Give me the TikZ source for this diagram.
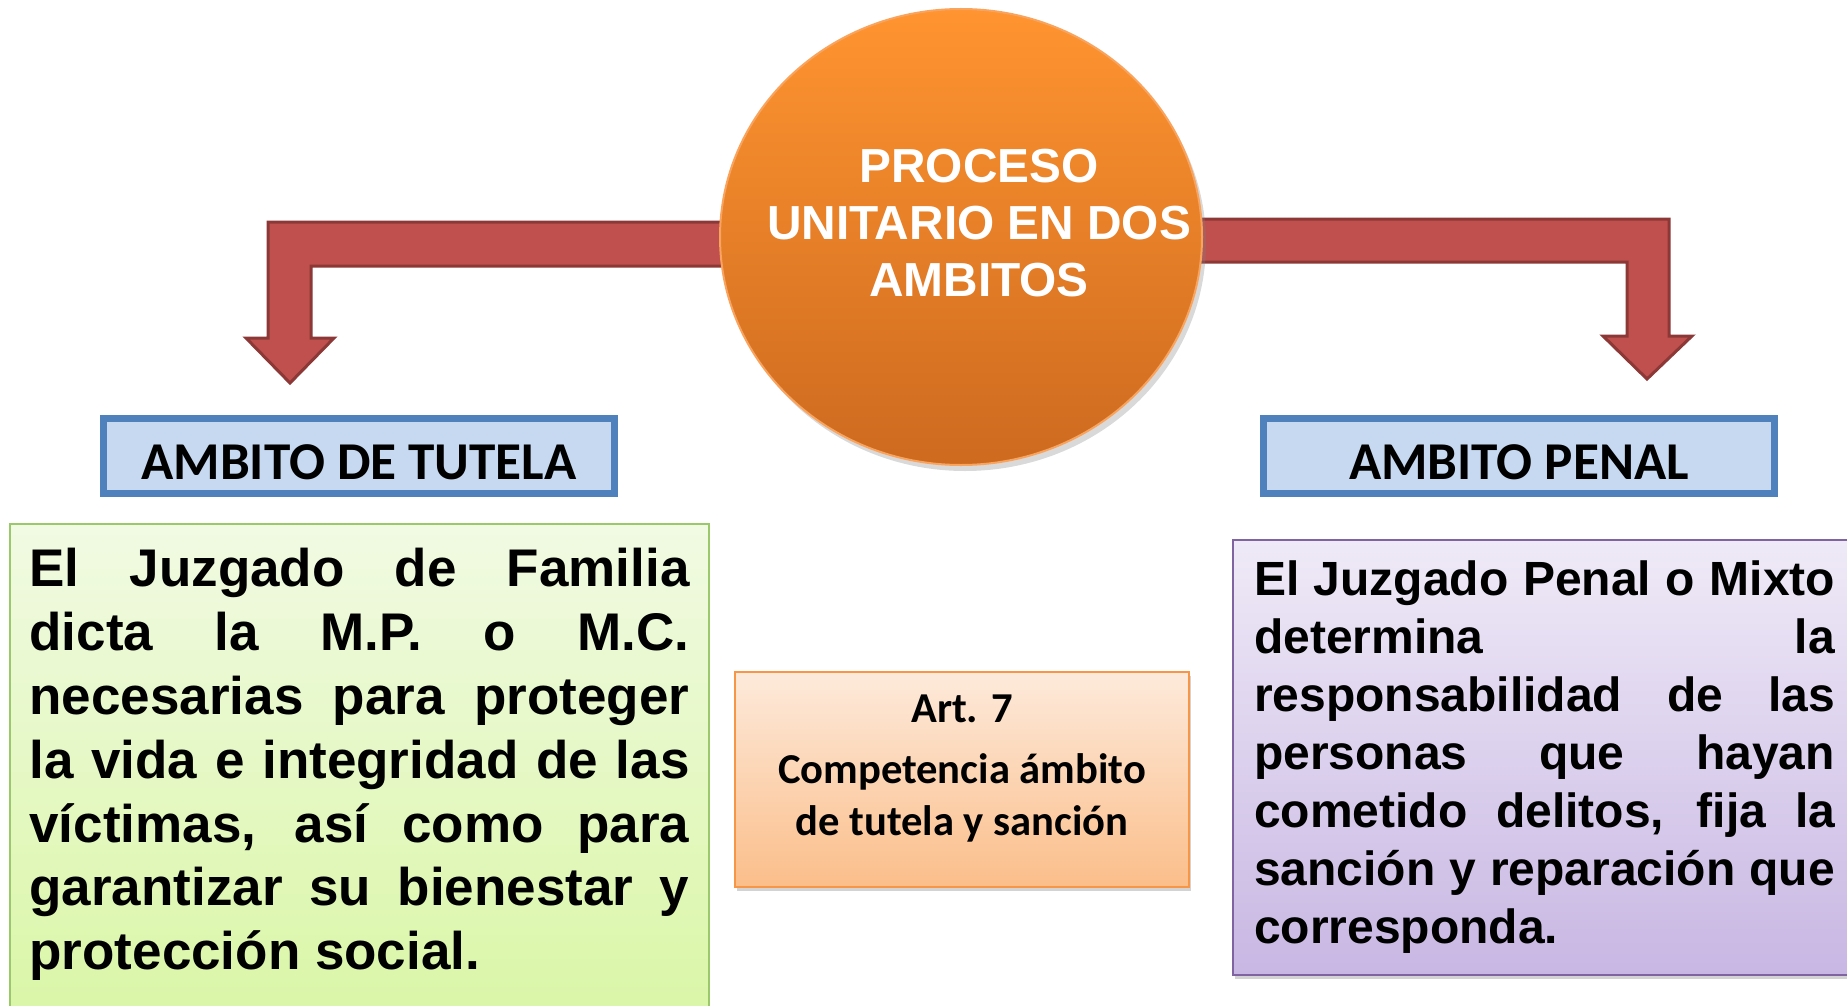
\documentclass[tikz,border=0pt]{standalone}
\usepackage{fontspec}
\setmainfont{Liberation Sans}
\newfontfamily\calibfont{Carlito}
\usepackage{xcolor}
\usetikzlibrary{shapes.geometric, positioning, shadows}

\definecolor{arrowred}{HTML}{C0504D}
\definecolor{arrowedge}{HTML}{8C3836}
\definecolor{proctop}{HTML}{FF9430}
\definecolor{procbottom}{HTML}{CD6A1F}
\definecolor{procedge}{HTML}{F9A45E}
\definecolor{ambitofill}{HTML}{C6D9F1}
\definecolor{ambitoedge}{HTML}{4F81BD}
\definecolor{greentop}{HTML}{F1FAE3}
\definecolor{greenbottom}{HTML}{D8F6A2}
\definecolor{greenedge}{HTML}{9BC86A}
\definecolor{lilactop}{HTML}{EFEAF7}
\definecolor{lilacbottom}{HTML}{C8B7E3}
\definecolor{lilacedge}{HTML}{8064A2}
\definecolor{peachtop}{HTML}{FDEADB}
\definecolor{peachbottom}{HTML}{FBBE8A}
\definecolor{peachedge}{HTML}{F79646}

\newcommand{\jline}[2]{\makebox[#1][s]{#2}}

\begin{document}
\begin{tikzpicture}[
x=0.5pt, y=-0.5pt,
blockarrow/.style={fill=arrowred, draw=arrowedge, line width=1.5pt, line join=miter},
process/.style={ellipse, top color=proctop, bottom color=procbottom, draw=procedge, line width=1pt, minimum width=241pt, minimum height=228pt, inner sep=0pt, drop shadow={opacity=0.3, shadow xshift=2pt, shadow yshift=-3pt}},
proctext/.style={align=center, text=white, font=\bfseries\fontsize{23.9}{28.5}\selectfont, xshift=9pt, yshift=7pt},
ambito/.style={rectangle, draw=ambitoedge, fill=ambitofill, line width=3.5pt, minimum width=255.5pt, minimum height=37.5pt, text height=23pt, text depth=0pt, font=\calibfont\bfseries\fontsize{26.6}{30}\selectfont},
tutelabox/.style={rectangle, draw=greenedge, top color=greentop, bottom color=greenbottom, line width=1pt, inner xsep=9.75pt, inner ysep=12pt, font=\bfseries\fontsize{26.5}{31.95}\selectfont},
penalbox/.style={rectangle, draw=lilacedge, top color=lilactop, bottom color=lilacbottom, line width=1pt, inner xsep=10.5pt, inner ysep=10.3pt, font=\bfseries\fontsize{24}{29}\selectfont, drop shadow={opacity=0.35, shadow xshift=1pt, shadow yshift=-2pt}},
artbox/.style={rectangle, draw=peachedge, top color=peachtop, bottom color=peachbottom, line width=1pt, minimum width=227pt, minimum height=107.5pt, drop shadow={opacity=0.35, shadow xshift=1pt, shadow yshift=-2pt}},
arttext/.style={align=center, font=\calibfont\bfseries\fontsize{21.3}{26}\selectfont, yshift=5.6pt}
]

\useasboundingbox (0,0) rectangle (1847,1006);

% block arrows, drawn under the ellipse
\draw[blockarrow] (760,222) -- (268,222) -- (268,338) -- (246,338) -- (290,383) -- (334,338) -- (311,338) -- (311,266) -- (760,266) -- cycle;
\draw[blockarrow] (1160,219) -- (1669,219) -- (1669,336) -- (1692,336) -- (1647,379) -- (1603,336) -- (1627,336) -- (1627,262) -- (1160,262) -- cycle;

\node[process, label={[proctext]center:PROCESO\\UNITARIO EN DOS\\AMBITOS}] (proc) at (961,237) {};

\node[ambito] (tutela) at (359,456) {AMBITO DE TUTELA};
\node[ambito, right=321pt of tutela] (penal) {AMBITO PENAL};

\node[tutelabox, anchor=north west] (tuteladesc) at (9,523) {\parbox[t][240pt][t]{330pt}{%
\jline{330pt}{El Juzgado de Familia}\\
\jline{330pt}{dicta la M.P. o M.C.}\\
\jline{330pt}{necesarias para proteger}\\
\jline{330pt}{la vida e integridad de las}\\
\jline{330pt}{víctimas, así como para}\\
\jline{330pt}{garantizar su bienestar y}\\
protección social.}};

\node[penalbox, anchor=north west] (penaldesc) at (1232,539) {\parbox[t][197pt][t]{298pt}{%
\jline{290.5pt}{El Juzgado Penal o Mixto}\\
\jline{290.5pt}{determina la}\\
\jline{290.5pt}{responsabilidad de las}\\
\jline{290.5pt}{personas que hayan}\\
\jline{290.5pt}{cometido delitos, fija la}\\
\jline{290.5pt}{sanción y reparación que}\\
corresponda.}};

\node[artbox, label={[arttext]center:Art. 7\\[4.5pt]Competencia ámbito\\de tutela y sanción}] (art) at (962,779.5) {};

\end{tikzpicture}
\end{document}
